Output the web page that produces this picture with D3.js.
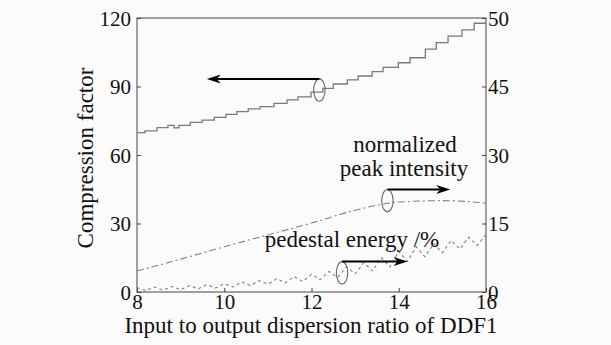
<!DOCTYPE html>
<html><head><meta charset="utf-8">
<script src="https://cdn.jsdelivr.net/npm/d3@7"></script>
<style>
body{margin:0;background:#fbfbfb;}
svg{display:block;}
svg text{font-family:"Liberation Serif","DejaVu Serif",serif !important;fill:#111;}
</style></head>
<body><svg id="c" width="611" height="345"></svg>
<script>
// ---- data ----
const xTicks = [8, 10, 12, 14, 16];
const leftTicks = [0, 30, 60, 90, 120];
const rightTickValues = [0, 15, 30, 45, 60];
const rightTickLabels = ["0", "15", "30", "45", "50"];

// Compression factor (left axis), stair-step
const compX = [8.00, 8.18, 8.46, 8.71, 8.85, 8.96, 9.22, 9.49, 9.77, 10.04, 10.29, 10.55, 10.82, 11.14, 11.44, 11.69, 11.99, 12.26, 12.50, 12.82, 13.07, 13.39, 13.64, 13.99, 14.26, 14.61, 14.86, 15.13, 15.45, 15.73, 16.00];
const compY = [69.8, 70.6, 72.0, 73.0, 71.9, 73.0, 74.3, 75.3, 76.5, 77.8, 79.0, 80.2, 81.2, 82.6, 84.1, 85.5, 87.5, 89.2, 91.1, 92.9, 94.6, 96.5, 98.4, 100.4, 102.6, 106.4, 109.2, 112.1, 114.8, 117.7, 117.7];

// Normalized peak intensity (right axis)
const peakX = [8, 9, 10, 11, 12, 13, 14, 15, 16];
const peakY = [4.6, 7.2, 9.9, 12.5, 15.1, 17.9, 19.7, 20.0, 19.5];

// Pedestal energy /% (right axis)
const pedX = [8.0, 8.2, 8.4, 8.6, 8.8, 9.0, 9.2, 9.4, 9.6, 9.8, 10.0, 10.2, 10.4, 10.6, 10.8, 11.0, 11.2, 11.4, 11.6, 11.8, 12.0, 12.2, 12.4, 12.6, 12.8, 13.0, 13.2, 13.4, 13.6, 13.8, 14.0, 14.2, 14.4, 14.6, 14.8, 15.0, 15.2, 15.4, 15.6, 15.8, 16.0];
const pedY = [1.0, 0.3, 1.1, 0.4, 1.2, 0.5, 1.4, 0.7, 1.6, 0.9, 1.8, 1.1, 2.2, 1.4, 2.5, 1.7, 2.9, 2.0, 3.4, 2.3, 3.9, 2.7, 4.5, 3.2, 5.5, 4.0, 6.4, 4.6, 7.5, 5.5, 8.9, 6.7, 9.9, 7.7, 10.6, 8.6, 11.3, 9.4, 12.0, 10.2, 12.6];

// ---- chart ----
const svg = d3.select("#c");
const L = 137, R = 486, T = 18, B = 292;
const x = d3.scaleLinear().domain([8, 16]).range([L, R]);
const yL = d3.scaleLinear().domain([0, 120]).range([B, T]);
const yR = d3.scaleLinear().domain([0, 60]).range([B, T]);
const SERIF = '"Liberation Serif", "DejaVu Serif", serif';

const axisColor = "#444";
svg.append("rect").attr("x", L).attr("y", T).attr("width", R - L).attr("height", B - T)
  .attr("fill", "none").attr("stroke", axisColor).attr("stroke-width", 1);

function styleAxis(g) {
  g.attr("font-family", SERIF).attr("font-size", 21);
  g.select(".domain").remove();
  g.selectAll(".tick line").attr("stroke", axisColor);
  g.selectAll(".tick text").attr("fill", "#111");
}

const gx = svg.append("g").attr("transform", `translate(0,${B})`)
  .call(d3.axisBottom(x).tickValues(xTicks).tickSizeInner(-4).tickSizeOuter(0).tickPadding(2).tickFormat(d3.format("d")));
styleAxis(gx);

const gl = svg.append("g").attr("transform", `translate(${L},0)`)
  .call(d3.axisLeft(yL).tickValues(leftTicks).tickSizeInner(-4).tickSizeOuter(0));
styleAxis(gl);
gl.selectAll(".tick text").attr("dy", "0.34em").attr("x", -6);

const gr = svg.append("g").attr("transform", `translate(${R},0)`)
  .call(d3.axisRight(yR).tickValues(rightTickValues).tickSizeInner(-4).tickSizeOuter(0)
    .tickFormat((d, i) => rightTickLabels[i]));
styleAxis(gr);
gr.selectAll(".tick text").attr("dy", "0.34em").attr("x", 2);

// lines
const compLine = d3.line().x((d, i) => x(compX[i])).y(d => yL(d)).curve(d3.curveStepAfter);
svg.append("path").datum(compY).attr("d", compLine)
  .attr("fill", "none").attr("stroke", "#7a7a7a").attr("stroke-width", 1.3);

const peakLine = d3.line().x((d, i) => x(peakX[i])).y(d => yR(d)).curve(d3.curveMonotoneX);
svg.append("path").datum(peakY).attr("d", peakLine)
  .attr("fill", "none").attr("stroke", "#808080").attr("stroke-width", 1.1)
  .attr("stroke-dasharray", "7,3,2,3");

const pedLine = d3.line().x((d, i) => x(pedX[i])).y(d => yR(d));
svg.append("path").datum(pedY).attr("d", pedLine)
  .attr("fill", "none").attr("stroke", "#808080").attr("stroke-width", 1.1)
  .attr("stroke-dasharray", "3,3");

// annotations: ellipse + arrow
function annot(cx, cy, x2) {
  svg.append("ellipse").attr("cx", cx).attr("cy", cy).attr("rx", 5.7).attr("ry", 11.2)
    .attr("fill", "none").attr("stroke", "#666").attr("stroke-width", 1.1);
  const y0 = cy - 11.2;
  const dir = x2 > cx ? 1 : -1;
  svg.append("line").attr("x1", cx).attr("y1", y0).attr("x2", x2 - dir * 6).attr("y2", y0)
    .attr("stroke", "#000").attr("stroke-width", 2);
  const p = d3.path();
  p.moveTo(x2, y0);
  p.lineTo(x2 - dir * 14, y0 - 4.5);
  p.lineTo(x2 - dir * 10, y0);
  p.lineTo(x2 - dir * 14, y0 + 4.5);
  p.closePath();
  svg.append("path").attr("d", p.toString()).attr("fill", "#000");
}
annot(x(12.18), yL(89.3) + 2, x(9.6));
annot(x(13.74), yR(20.0), x(15.18));
annot(x(12.7), yR(4.2), x(14.2));

// texts
function label(tx, ty, s, transform) {
  const t = svg.append("text").attr("text-anchor", "middle").attr("font-family", SERIF)
    .attr("font-size", 23).text(s);
  if (transform) t.attr("transform", transform); else t.attr("x", tx).attr("y", ty);
  return t;
}
label(311, 333, "Input to output dispersion ratio of DDF1");
label(0, 0, "Compression factor", "translate(93,158) rotate(-90)");
label(405, 152, "normalized");
label(404, 176, "peak intensity");
label(352, 247, "pedestal energy /%");
</script></body></html>
